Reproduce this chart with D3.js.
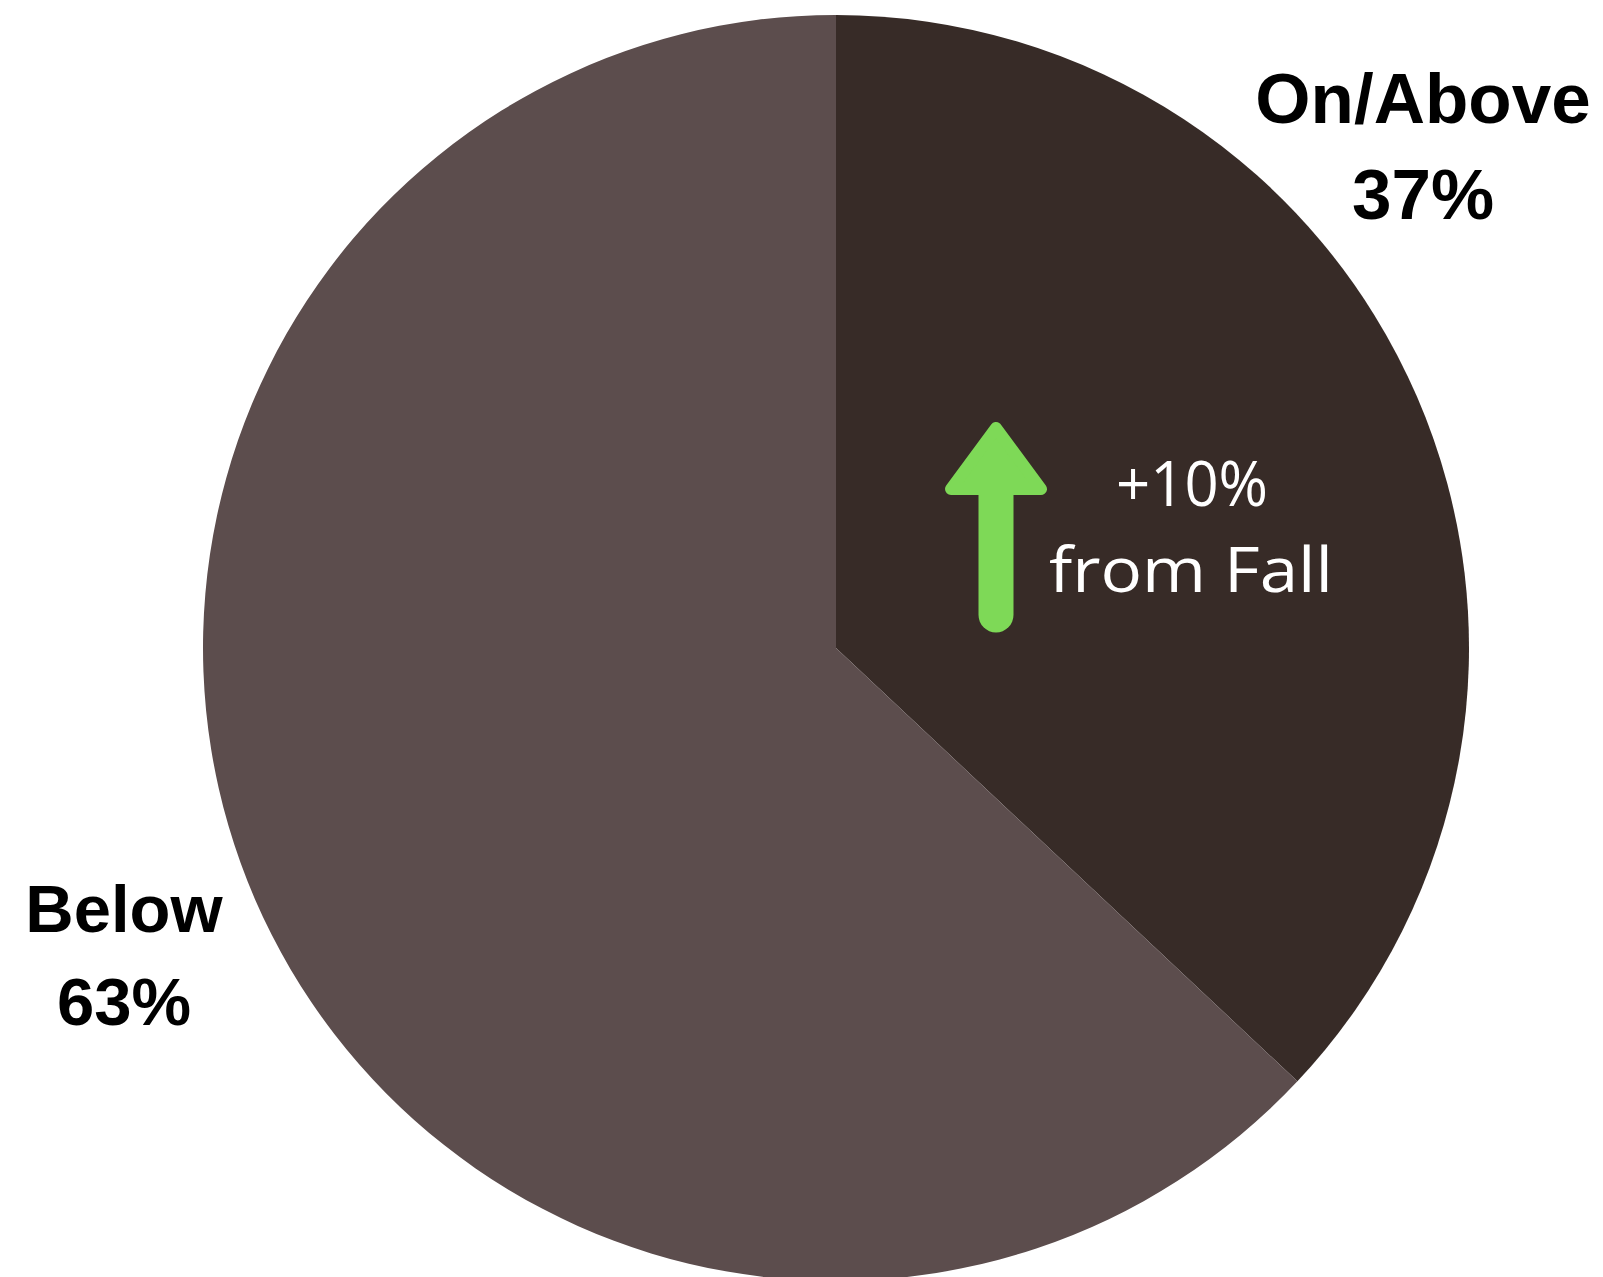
<!DOCTYPE html>
<html>
<head>
<meta charset="utf-8">
<script src="https://cdn.jsdelivr.net/npm/d3@7"></script>
<style>
  html, body { margin: 0; padding: 0; background: #ffffff; }
  svg { display: block; }
</style>
</head>
<body>
<script>
// Share of students by benchmark status
const categories = ["On/Above", "Below"];
const values = [37, 63];
const sliceColors = ["#372b27", "#5c4d4d"];
const changeText = ["+10%", "from Fall"];

const width = 1603, height = 1277;
const cx = 836, cy = 648, radius = 633;

const svg = d3.select("body").append("svg")
  .attr("width", width)
  .attr("height", height);

svg.append("rect").attr("width", width).attr("height", height).attr("fill", "#ffffff");

const data = categories.map((c, i) => ({ category: c, value: values[i], color: sliceColors[i] }));

const pie = d3.pie().sort(null).value(d => d.value);
const arc = d3.arc().innerRadius(0).outerRadius(radius);

const g = svg.append("g").attr("transform", `translate(${cx},${cy})`);
g.selectAll("path.slice")
  .data(pie(data))
  .join("path")
  .attr("class", "slice")
  .attr("d", arc)
  .attr("fill", d => d.data.color);

// Outside category labels
const labelPos = [
  { x: 1423, y: 123, size: 71, gap: 96 },
  { x: 124, y: 932, size: 67, gap: 93 }
];
data.forEach((d, i) => {
  const p = labelPos[i];
  const t = svg.append("text")
    .attr("x", p.x)
    .attr("y", p.y)
    .attr("text-anchor", "middle")
    .attr("font-family", "Liberation Sans, Arial, sans-serif")
    .attr("font-weight", "bold")
    .attr("font-size", p.size)
    .attr("fill", "#000000");
  t.append("tspan").attr("x", p.x).attr("dy", 0).text(d.category);
  t.append("tspan").attr("x", p.x).attr("dy", p.gap).text(d3.format("d")(d.value) + "%");
});

// Change-since-fall annotation: green up arrow plus text
const arrowColor = "#7ed957";
const ax = 996;
svg.append("line")
  .attr("x1", ax).attr("x2", ax)
  .attr("y1", 490).attr("y2", 615)
  .attr("stroke", arrowColor)
  .attr("stroke-width", 35)
  .attr("stroke-linecap", "round");
svg.append("path")
  .attr("d", `M${ax},428 L${1041},489 L${951},489 Z`)
  .attr("fill", arrowColor)
  .attr("stroke", arrowColor)
  .attr("stroke-width", 12)
  .attr("stroke-linejoin", "round");

const note = svg.append("text")
  .attr("text-anchor", "middle")
  .attr("font-family", "Open Sans, sans-serif")
  .attr("font-weight", 400)
  .attr("font-size", 62)
  .attr("fill", "#ffffff");
note.append("tspan").attr("x", 1192).attr("y", 506)
  .attr("textLength", 152).attr("lengthAdjust", "spacingAndGlyphs")
  .text(changeText[0]);
note.append("tspan").attr("x", 1191).attr("y", 592)
  .attr("textLength", 284).attr("lengthAdjust", "spacingAndGlyphs")
  .text(changeText[1]);
</script>
</body>
</html>
